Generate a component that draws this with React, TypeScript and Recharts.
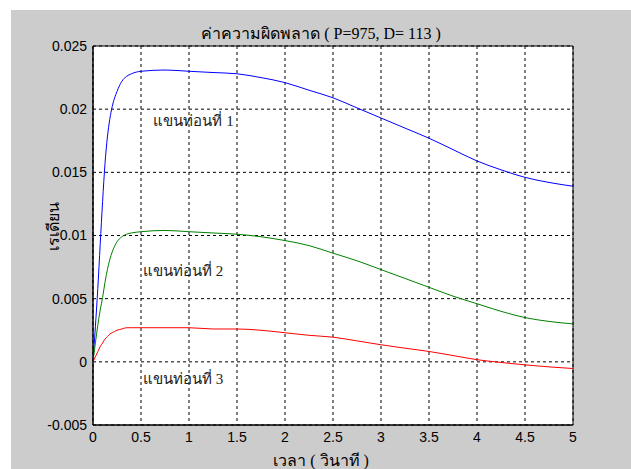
import { LineChart, Line, XAxis, YAxis, CartesianGrid, ReferenceArea, ReferenceDot } from "recharts"

const times = [
  0, 0.025, 0.05, 0.075, 0.1, 0.125, 0.15, 0.175, 0.2, 0.25, 0.3, 0.35, 0.4, 0.5, 0.75, 1.0,
  1.25, 1.5, 1.75, 2.0, 2.25, 2.5, 2.75, 3.0, 3.25, 3.5, 3.75, 4.0, 4.25, 4.5, 4.75, 5.0,
]
const arm1 = [
  0, 0.0028, 0.0058, 0.0093, 0.0127, 0.0157, 0.0178, 0.0192, 0.0202, 0.0214, 0.0222, 0.0226, 0.0228, 0.023, 0.0231, 0.023,
  0.0229, 0.0228, 0.0225, 0.0221, 0.0215, 0.0209, 0.0201, 0.0193, 0.0185, 0.0177, 0.0168, 0.0159, 0.0152, 0.0146, 0.0142, 0.0139,
]
const arm2 = [
  0, 0.0015, 0.0029, 0.0041, 0.0051, 0.0063, 0.0073, 0.0081, 0.0087, 0.0095, 0.0099, 0.0101, 0.0102, 0.0103, 0.0104, 0.0103,
  0.0102, 0.0101, 0.0099, 0.0096, 0.0092, 0.0086, 0.008, 0.0073, 0.0066, 0.0059, 0.0052, 0.0046, 0.004, 0.0035, 0.0032, 0.003,
]
const arm3 = [
  0, 0.0004, 0.0008, 0.0012, 0.0015, 0.0018, 0.002, 0.0022, 0.0023, 0.0025, 0.0026, 0.0027, 0.0027, 0.0027, 0.0027, 0.0027,
  0.0026, 0.0026, 0.0025, 0.0023, 0.0021, 0.00195, 0.00166, 0.00135, 0.00108, 0.00082, 0.0005, 0.00017, -0.00005, -0.00024, -0.0004, -0.00053,
]

const xTicks = [0, 0.5, 1, 1.5, 2, 2.5, 3, 3.5, 4, 4.5, 5]
const xTickLabels = ["0", "0.5", "1", "1.5", "2", "2.5", "3", "3.5", "4", "4.5", "5"]
const yTicks = [-0.005, 0, 0.005, 0.01, 0.015, 0.02, 0.025]
const yTickLabels = ["-0.005", "0", "0.005", "0.01", "0.015", "0.02", "0.025"]

const noteLabels = ["แขนท่อนที่ 1", "แขนท่อนที่ 2", "แขนท่อนที่ 3"]
const noteT = [0.63, 0.52, 0.52]
const noteV = [0.0191, 0.0072, -0.0013]

const data = times.map((t, i) => ({ t, a1: arm1[i], a2: arm2[i], a3: arm3[i] }))

const serif = '"Liberation Serif", "DejaVu Serif", serif'
const sans = '"Liberation Sans", Arial, sans-serif'

export default function App() {
  return (
    <div style={{ position: "absolute", left: 0, top: 0, width: 631, height: 469, background: "#fff", overflow: "hidden" }}>
      <div style={{ position: "absolute", left: 11, top: 10, width: 620, height: 459, background: "#cccccc" }}>
        <LineChart width={620} height={459} data={data} margin={{ top: 36, right: 58, bottom: 0, left: 0 }}>
          <CartesianGrid stroke="#000" strokeDasharray="3 3" fill="#fff" fillOpacity={1} />
          <XAxis
            dataKey="t"
            type="number"
            domain={[0, 5]}
            ticks={xTicks}
            tickFormatter={(v, i) => xTickLabels[i]}
            height={44}
            tickLine={false}
            tickSize={5}
            tickMargin={2}
            axisLine={{ stroke: "#000" }}
            tick={{ fill: "#000", fontSize: 14, fontFamily: sans }}
            interval={0}
          />
          <YAxis
            type="number"
            domain={[-0.005, 0.025]}
            ticks={yTicks}
            tickFormatter={(v, i) => yTickLabels[i]}
            width={82}
            tickLine={false}
            tickSize={4}
            tickMargin={2}
            axisLine={{ stroke: "#000" }}
            tick={{ fill: "#000", fontSize: 14, fontFamily: sans }}
            interval={0}
          />
          <ReferenceArea x1={0} x2={5} y1={-0.005} y2={0.025} fill="none" stroke="#000" strokeWidth={1} />
          <Line dataKey="a1" type="monotone" stroke="#0000ff" strokeWidth={1} dot={false} isAnimationActive={false} />
          <Line dataKey="a2" type="monotone" stroke="#008000" strokeWidth={1} dot={false} isAnimationActive={false} />
          <Line dataKey="a3" type="monotone" stroke="#ff0000" strokeWidth={1} dot={false} isAnimationActive={false} />
          {noteLabels.map((txt, i) => (
            <ReferenceDot
              key={txt}
              x={noteT[i]}
              y={noteV[i]}
              r={0}
              fill="none"
              stroke="none"
              label={{ value: txt, position: "right", offset: 0, fill: "#222", fontSize: 15, fontFamily: serif }}
            />
          ))}
        </LineChart>
        <div style={{ position: "absolute", left: 0, top: 11, width: 620, textAlign: "center", fontFamily: serif, fontSize: 16, color: "#000" }}>
          ค่าความผิดพลาด ( P=975, D= 113 )
        </div>
        <div style={{ position: "absolute", left: 0, top: 438, width: 620, textAlign: "center", fontFamily: serif, fontSize: 16, color: "#000" }}>
          เวลา ( วินาที )
        </div>
        <div
          style={{
            position: "absolute",
            left: 43 - 60,
            top: 216 - 10,
            width: 120,
            height: 20,
            lineHeight: "20px",
            textAlign: "center",
            transform: "rotate(-90deg)",
            fontFamily: serif,
            fontSize: 16,
            color: "#000",
          }}
        >
          เรเดียน
        </div>
      </div>
    </div>
  )
}
